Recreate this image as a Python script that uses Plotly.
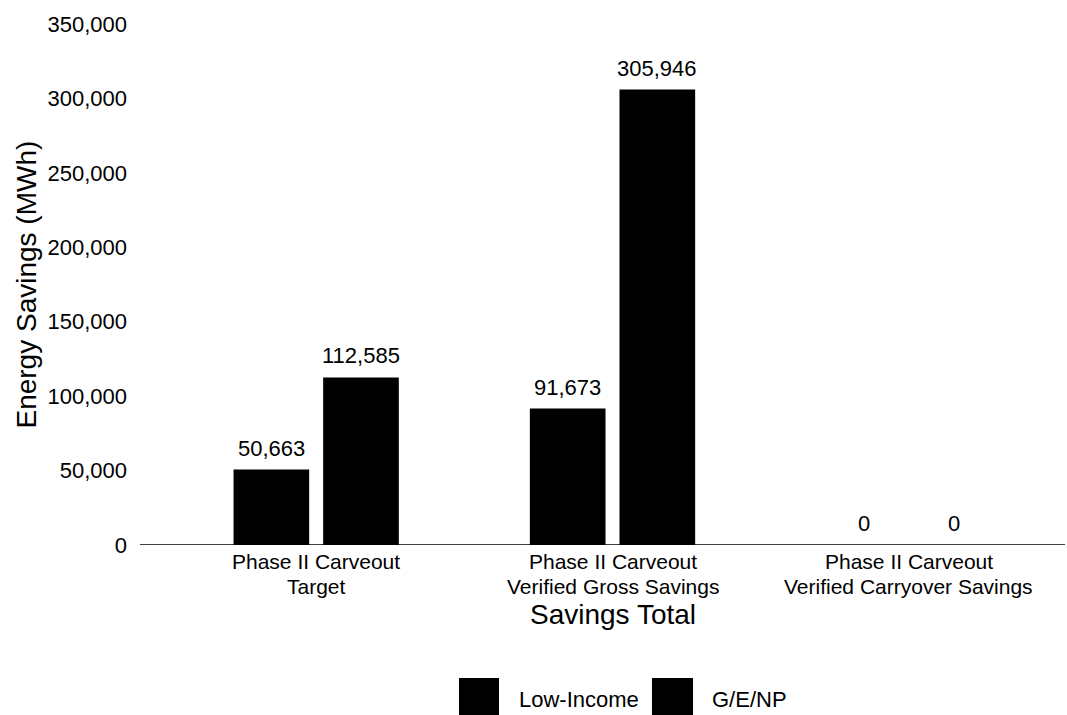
import plotly.graph_objects as go

# Savings categories and values (MWh)
categories = [
    "Phase II Carveout<br>Target",
    "Phase II Carveout<br>Verified Gross Savings",
    "Phase II Carveout<br>Verified Carryover Savings",
]
series_names = ["Low-Income", "G/E/NP"]
low_income = [50663, 91673, 0]
ge_np = [112585, 305946, 0]
y_ticks = [0, 50000, 100000, 150000, 200000, 250000, 300000, 350000]

FONT = "Liberation Sans, Arial, sans-serif"
BAR_COLOR = "#000000"

fig = go.Figure()
for name, vals in zip(series_names, [low_income, ge_np]):
    fig.add_trace(go.Bar(
        x=categories, y=vals, name=name,
        marker=dict(color=BAR_COLOR, line=dict(width=0)),
        showlegend=False,
    ))

annotations = []

# value labels above each bar
for shift, vals in zip([-44.75, 44.75], [low_income, ge_np]):
    for cat, v in zip(categories, vals):
        annotations.append(dict(
            x=cat, y=v, xref="x", yref="y", text=f"{v:,}",
            showarrow=False, xanchor="center", yanchor="bottom",
            xshift=shift, yshift=7,
            font=dict(family=FONT, size=22, color="black"),
        ))

# category labels, one annotation per line for tight line spacing
line_y = [-0.0326, -0.0787]
for cat in categories:
    for ly, part in zip(line_y, cat.split("<br>")):
        annotations.append(dict(
            x=cat, y=ly, xref="x", yref="paper", text=part,
            showarrow=False, xanchor="center", yanchor="middle",
            font=dict(family=FONT, size=21, color="black"),
        ))

# axis titles
annotations.append(dict(
    x=0.5, y=-0.1335, xref="paper", yref="paper", text="Savings Total",
    showarrow=False, xanchor="center", yanchor="middle",
    font=dict(family=FONT, size=28, color="black"),
))
annotations.append(dict(
    x=-0.1597, y=0.5, xref="paper", yref="paper", text="Energy Savings (MWh)",
    showarrow=False, xanchor="center", yanchor="middle", textangle=-90,
    font=dict(family=FONT, size=28, color="black"),
))

# legend: square swatches with series names
shapes = []
legend_items = [
    (series_names[0], 0.3273, 0.3723, 0.3926),
    (series_names[1], 0.5444, 0.5906, 0.6097),
]
for name, x0, x1, xt in legend_items:
    shapes.append(dict(
        type="rect", xref="paper", yref="paper",
        x0=x0, x1=x1, y0=-0.2553, y1=-0.3263,
        fillcolor=BAR_COLOR, line=dict(width=0),
    ))
    annotations.append(dict(
        x=xt, y=-0.2956, xref="paper", yref="paper", text=name,
        showarrow=False, xanchor="left", yanchor="middle",
        font=dict(family=FONT, size=22, color="black"),
    ))

# baseline along zero
shapes.append(dict(
    type="line", xref="paper", yref="y",
    x0=-0.0315, x1=1.009, y0=0, y1=0,
    line=dict(color="black", width=1.5),
))

fig.update_layout(
    width=1067, height=715,
    margin=dict(l=168, r=10, t=24, b=170),
    paper_bgcolor="white", plot_bgcolor="white",
    barmode="group", bargap=0.395, bargroupgap=0.156,
    font=dict(family=FONT, size=22, color="black"),
    annotations=annotations, shapes=shapes,
    showlegend=False,
)
fig.update_xaxes(
    showgrid=False, showline=False, zeroline=False, ticks="",
    showticklabels=False,
)
fig.update_yaxes(
    range=[0, 350000], tickvals=y_ticks,
    ticktext=[f"{t:,}" for t in y_ticks],
    showgrid=False, showline=False, zeroline=False, ticks="",
    tickfont=dict(family=FONT, size=22, color="black"),
    ticklabelstandoff=40,
)

fig.write_html("out.html")
